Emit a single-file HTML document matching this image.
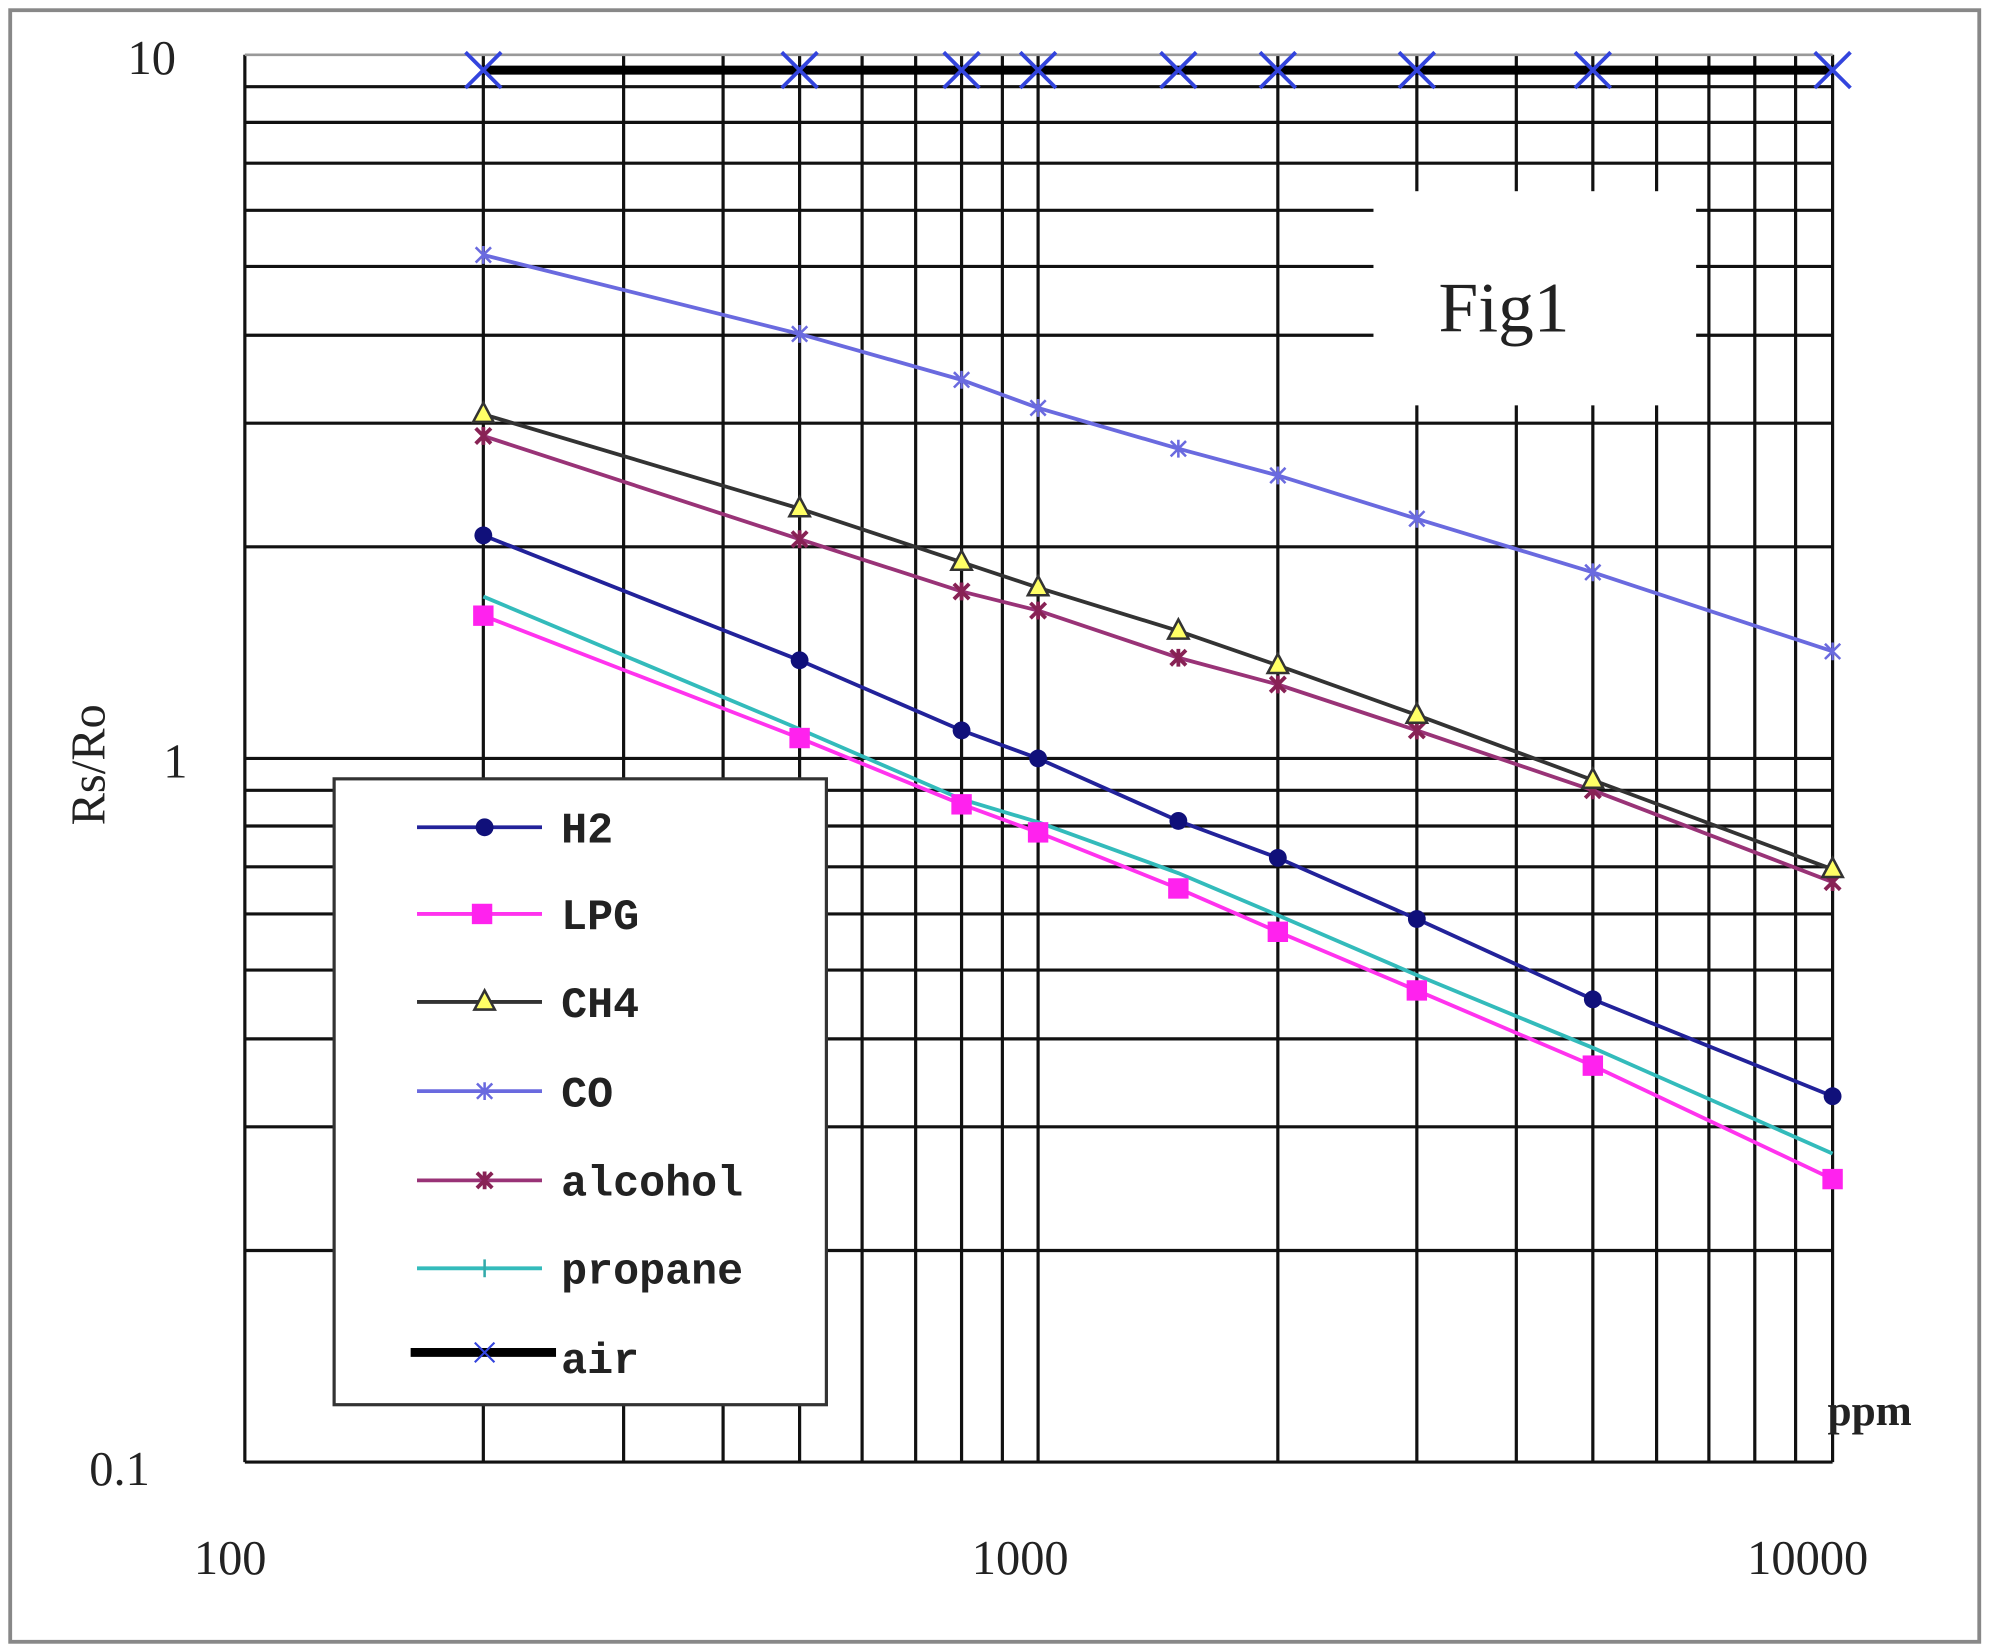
<!DOCTYPE html>
<html><head><meta charset="utf-8"><style>
html,body{margin:0;padding:0;background:#fff}
svg{display:block}
text{font-family:"Liberation Mono","DejaVu Sans Mono",monospace;fill:#222}
text.s{font-family:"Liberation Serif","DejaVu Serif",serif}
</style></head><body>
<svg width="1992" height="1652" viewBox="0 0 1562 1296" preserveAspectRatio="none" xmlns="http://www.w3.org/2000/svg">
<defs>
<circle id="dia" r="7" fill="#10107a"/>
<rect id="sq" x="-8" y="-8" width="16" height="16" fill="#ff22ee"/>
<path id="tri" d="M0,-9 L8,6 L-8,6 Z" fill="#ffff66" stroke="#333" stroke-width="2"/>
<path id="star" d="M-6,-6 L6,6 M-6,6 L6,-6 M0,-7 V7" stroke="#6a6adf" stroke-width="2"/>
<path id="ast" d="M-6,-6 L6,6 M-6,6 L6,-6 M0,-7 V7" stroke="#882255" stroke-width="3"/>
<path id="plus" d="M0,-7 V7" stroke="#33aaaa" stroke-width="2"/>
<path id="xx" d="M-14,-14 L14,14 M-14,14 L14,-14" stroke="#3344dd" stroke-width="3"/>
</defs>
<rect x="8" y="8" width="1544" height="1280" fill="#fff" stroke="#888" stroke-width="3"/>
<rect x="192" y="43" width="1245" height="1104" fill="#fff"/>
<path stroke="#111" stroke-width="2.5" fill="none" d="
M192,43V1147 M489,43V1147 M567,43V1147 M627,43V1147 M676,43V1147 M718,43V1147 M754,43V1147 M786,43V1147 M814,43V1147
M1002,43V1147 M1111,43V1147 M1189,43V1147 M1249,43V1147 M1299,43V1147 M1340,43V1147 M1376,43V1147 M1408,43V1147 M1437,43V1147 M379,43V1147
M192,68H1437 M192,96H1437 M192,128H1437 M192,165H1437 M192,209H1437 M192,263H1437 M192,332H1437 M192,429H1437
M192,595H1437 M192,620H1437 M192,648H1437 M192,680H1437 M192,717H1437 M192,761H1437 M192,815H1437 M192,884H1437 M192,981H1437 M192,1147H1437"/>
<path stroke="#999" stroke-width="2" d="M192,43H1437"/>
<rect x="1077" y="150" width="253" height="168" fill="#fff"/>
<text class="s" x="1128" y="260" font-size="56">Fig1</text>

<polyline fill="none" stroke="#000" stroke-width="7" points="379,55 627,55 754,55 814,55 924,55 1002,55 1111,55 1249,55 1437,55"/>
<g><use href="#xx" x="379" y="55"/><use href="#xx" x="627" y="55"/><use href="#xx" x="754" y="55"/><use href="#xx" x="814" y="55"/><use href="#xx" x="924" y="55"/><use href="#xx" x="1002" y="55"/><use href="#xx" x="1111" y="55"/><use href="#xx" x="1249" y="55"/><use href="#xx" x="1437" y="55"/></g>

<polyline fill="none" stroke="#6a6adf" stroke-width="3" points="379,200 627,262 754,298 814,320 924,352 1002,373 1111,407 1249,449 1437,511"/>
<g><use href="#star" x="379" y="200"/><use href="#star" x="627" y="262"/><use href="#star" x="754" y="298"/><use href="#star" x="814" y="320"/><use href="#star" x="924" y="352"/><use href="#star" x="1002" y="373"/><use href="#star" x="1111" y="407"/><use href="#star" x="1249" y="449"/><use href="#star" x="1437" y="511"/></g>

<polyline fill="none" stroke="#993377" stroke-width="3" points="379,342 627,423 754,464 814,479 924,516 1002,537 1111,573 1249,620 1437,692"/>
<g><use href="#ast" x="379" y="342"/><use href="#ast" x="627" y="423"/><use href="#ast" x="754" y="464"/><use href="#ast" x="814" y="479"/><use href="#ast" x="924" y="516"/><use href="#ast" x="1002" y="537"/><use href="#ast" x="1111" y="573"/><use href="#ast" x="1249" y="620"/><use href="#ast" x="1437" y="692"/></g>

<polyline fill="none" stroke="#333" stroke-width="3" points="379,325 627,399 754,441 814,461 924,495 1002,522 1111,561 1249,612 1437,682"/>
<g><use href="#tri" x="379" y="325"/><use href="#tri" x="627" y="399"/><use href="#tri" x="754" y="441"/><use href="#tri" x="814" y="461"/><use href="#tri" x="924" y="495"/><use href="#tri" x="1002" y="522"/><use href="#tri" x="1111" y="561"/><use href="#tri" x="1249" y="612"/><use href="#tri" x="1437" y="682"/></g>

<polyline fill="none" stroke="#22229a" stroke-width="3" points="379,420 627,518 754,573 814,595 924,644 1002,673 1111,721 1249,784 1437,860"/>
<g><use href="#dia" x="379" y="420"/><use href="#dia" x="627" y="518"/><use href="#dia" x="754" y="573"/><use href="#dia" x="814" y="595"/><use href="#dia" x="924" y="644"/><use href="#dia" x="1002" y="673"/><use href="#dia" x="1111" y="721"/><use href="#dia" x="1249" y="784"/><use href="#dia" x="1437" y="860"/></g>

<polyline fill="none" stroke="#33bbbb" stroke-width="3" points="379,468 627,572 754,627 814,645 924,685 1002,718 1111,765 1249,822 1437,905"/>
<polyline fill="none" stroke="#ff33ee" stroke-width="3" points="379,483 627,579 754,631 814,653 924,697 1002,731 1111,777 1249,836 1437,925"/>
<g><use href="#sq" x="379" y="483"/><use href="#sq" x="627" y="579"/><use href="#sq" x="754" y="631"/><use href="#sq" x="814" y="653"/><use href="#sq" x="924" y="697"/><use href="#sq" x="1002" y="731"/><use href="#sq" x="1111" y="777"/><use href="#sq" x="1249" y="836"/><use href="#sq" x="1437" y="925"/></g>

<rect x="262" y="611" width="386" height="491" fill="#fff" stroke="#333" stroke-width="2.5"/>
<g stroke-width="3">
<line x1="327" y1="649" x2="425" y2="649" stroke="#22229a"/><use href="#dia" x="380" y="649"/>
<line x1="327" y1="717" x2="425" y2="717" stroke="#ff33ee"/><use href="#sq" x="378" y="717"/>
<line x1="327" y1="786" x2="425" y2="786" stroke="#333"/><use href="#tri" x="380" y="786"/>
<line x1="327" y1="856" x2="425" y2="856" stroke="#6a6adf"/><use href="#star" x="380" y="856"/>
<line x1="327" y1="926" x2="425" y2="926" stroke="#993377"/><use href="#ast" x="380" y="926"/>
<line x1="327" y1="995" x2="425" y2="995" stroke="#33bbbb"/><use href="#plus" x="380" y="995"/>
<line x1="322" y1="1061" x2="436" y2="1061" stroke="#000" stroke-width="7"/><use href="#xx" x="380" y="1061" transform="translate(380,1061) scale(0.55) translate(-380,-1061)"/>
</g>
<g font-size="34" font-weight="bold">
<text x="440" y="661">H2</text>
<text x="440" y="729">LPG</text>
<text x="440" y="798">CH4</text>
<text x="440" y="868">CO</text>
<text x="440" y="938">alcohol</text>
<text x="440" y="1007">propane</text>
<text x="440" y="1077">air</text>
</g>
<g font-size="38">
<text class="s" x="100" y="58">10</text>
<text class="s" x="128" y="610">1</text>
<text class="s" x="70" y="1165">0.1</text>
<text class="s" x="152" y="1235">100</text>
<text class="s" x="762" y="1235">1000</text>
<text class="s" x="1370" y="1235">10000</text>
<text class="s" x="1433" y="1118" font-size="34" font-weight="bold">ppm</text>
<text class="s" transform="translate(82,600) rotate(-90)" text-anchor="middle" font-size="38">Rs/Ro</text>
</g>
</svg>
</body></html>
